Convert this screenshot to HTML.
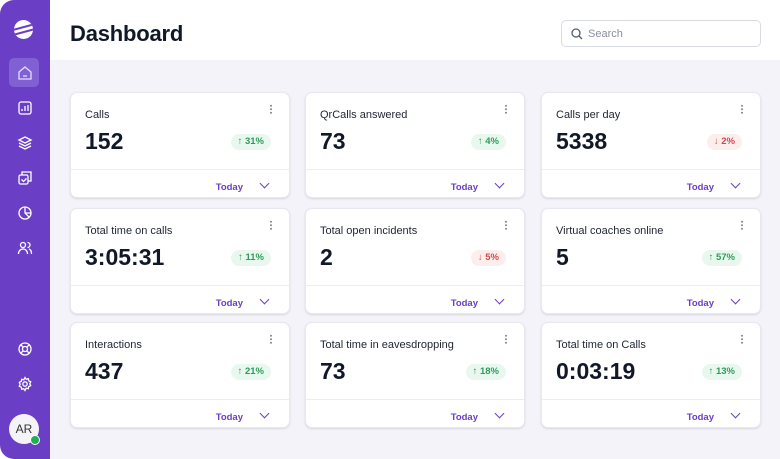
<!DOCTYPE html>
<html><head><meta charset="utf-8"><style>
*{box-sizing:border-box;margin:0;padding:0}
body{width:780px;height:459px;overflow:hidden;background:#fff;font-family:"Liberation Sans",sans-serif;position:relative}
.sb{position:absolute;left:0;top:0;width:50px;height:459px;background:#6b3fc5;border-radius:14px 0 0 14px}
.main{position:absolute;left:50px;top:60px;width:730px;height:399px;background:#f5f3fa}
.hdr{position:absolute;left:50px;top:0;width:730px;height:60px;background:#fff}
h1{position:absolute;left:70px;top:21px;font-size:22px;font-weight:bold;color:#111827;letter-spacing:-0.2px}
.search{position:absolute;left:561px;top:20px;width:200px;height:27px;border:1px solid #d9dbe3;border-radius:5px;background:#fff}
.search span{position:absolute;left:26px;top:7px;font-size:11px;color:#8a8f9c}
.card{position:absolute;width:220px;height:106px;background:#fff;border-radius:7px;box-shadow:0 1px 2px rgba(0,0,0,.12);border:1px solid #e9e7ef}
.card .t{position:absolute;left:14px;top:16px;font-size:11px;color:#1f2430}
.card .v{position:absolute;left:14px;top:35px;font-size:23px;font-weight:bold;color:#111827}
.card .dots{position:absolute;right:17px;top:11px;width:2px;height:10px;background:radial-gradient(circle,#8a8f9c 0.9px,transparent 1.1px) 0 0/2px 3.5px repeat-y}
.card .b{position:absolute;right:18px;top:41px;height:16px;padding:0 7px;border-radius:8px;font-size:9.5px;line-height:16px;font-weight:bold}
.up{background:#e9f8ef;color:#2e9b5b}.dn{background:#fdeeee;color:#d94848}
.card .hr{position:absolute;left:0;right:0;top:76px;height:1px;background:#eeecf2}
.card .td{position:absolute;right:46px;top:89px;font-size:9.5px;font-weight:bold;color:#6b3fc5}
.card .ch{position:absolute;right:21px;top:87px;width:7px;height:7px;border-right:1.5px solid #6b3fc5;border-bottom:1.5px solid #6b3fc5;transform:rotate(45deg)}
.ic{position:absolute;left:17px;width:16px;height:16px}
</style></head><body>
<div class="hdr"></div><div class="main"></div>
<div class="sb">
 <div style="position:absolute;left:14px;top:20px;width:19px;height:19px;border-radius:50%;background:#fff;overflow:hidden"><div style="position:absolute;left:-2px;top:6px;width:24px;height:2px;background:#6b3fc5;transform:rotate(-15deg)"></div><div style="position:absolute;left:-2px;top:11px;width:24px;height:2px;background:#6b3fc5;transform:rotate(-15deg)"></div></div>
 <div style="position:absolute;left:9px;top:58px;width:30px;height:29px;border-radius:5px;background:#8060d2"></div>
 <svg class="ic" style="top:65px" viewBox="0 0 16 16" fill="none" stroke="#e6dcff" stroke-width="1.3"><path d="M2 7l6-5 6 5v7H2z"/><path d="M6 11h4"/></svg>
 <svg class="ic" style="top:100px" viewBox="0 0 16 16" fill="none" stroke="#fff" stroke-width="1.3"><rect x="2" y="2" width="12" height="12" rx="2"/><path d="M5 11V9M8 11V6M11 11V5"/></svg>
 <svg class="ic" style="top:135px" viewBox="0 0 16 16" fill="none" stroke="#fff" stroke-width="1.3"><path d="M8 2l6 3-6 3-6-3z M2 8l6 3 6-3 M2 11l6 3 6-3"/></svg>
 <svg class="ic" style="top:170px" viewBox="0 0 16 16" fill="none" stroke="#fff" stroke-width="1.3"><rect x="2" y="5" width="9" height="9" rx="1.5"/><path d="M5 5V2h9v9h-3"/><path d="M4.5 9.5l2 2 3-3"/></svg>
 <svg class="ic" style="top:205px" viewBox="0 0 16 16" fill="none" stroke="#fff" stroke-width="1.3"><circle cx="8" cy="8" r="6"/><path d="M8 2v6l4 4M8 8h6"/></svg>
 <svg class="ic" style="top:240px" viewBox="0 0 16 16" fill="none" stroke="#fff" stroke-width="1.3"><circle cx="6" cy="5" r="2.5"/><path d="M1.5 14c0-3 2-5 4.5-5s4.5 2 4.5 5M10.5 2.5a2.5 2.5 0 010 5M12 9c1.5.5 2.5 2.5 2.5 5"/></svg>
 <svg class="ic" style="top:341px" viewBox="0 0 16 16" fill="none" stroke="#fff" stroke-width="1.3"><circle cx="8" cy="8" r="6"/><circle cx="8" cy="8" r="2.5"/><path d="M4 4l2.2 2.2M12 4l-2.2 2.2M4 12l2.2-2.2M12 12l-2.2-2.2"/></svg>
 <svg class="ic" style="top:376px" viewBox="0 0 16 16" fill="none" stroke="#fff" stroke-width="1.3"><circle cx="8" cy="8" r="2.2"/><path d="M8 1.5l1.2 1.8 2.1-.6.4 2.1 2 .9-.9 2 .9 2-2 .9-.4 2.1-2.1-.6L8 14.5l-1.2-1.8-2.1.6-.4-2.1-2-.9.9-2-.9-2 2-.9.4-2.1 2.1.6z"/></svg>
 <div style="position:absolute;left:9px;top:414px;width:30px;height:30px;border-radius:50%;background:#f4f3f7;font-size:12px;color:#333;text-align:center;line-height:30px">AR</div>
 <div style="position:absolute;left:30px;top:435px;width:10px;height:10px;border-radius:50%;background:#1fb055;border:1.5px solid #fff"></div>
</div>
<h1>Dashboard</h1>
<div class="search"><svg style="position:absolute;left:9px;top:7px" width="12" height="12" viewBox="0 0 12 12" fill="none" stroke="#555c6a" stroke-width="1.3"><circle cx="5" cy="5" r="4"/><path d="M8 8l3 3"/></svg><span>Search</span></div>

<div class="card" style="left:70px;top:92px"><div class="t">Calls</div><div class="v">152</div><div class="dots"></div><div class="b up">↑ 31%</div><div class="hr"></div><div class="td">Today</div><div class="ch"></div></div>
<div class="card" style="left:305px;top:92px"><div class="t">QrCalls answered</div><div class="v">73</div><div class="dots"></div><div class="b up">↑ 4%</div><div class="hr"></div><div class="td">Today</div><div class="ch"></div></div>
<div class="card" style="left:541px;top:92px"><div class="t">Calls per day</div><div class="v">5338</div><div class="dots"></div><div class="b dn">↓ 2%</div><div class="hr"></div><div class="td">Today</div><div class="ch"></div></div>

<div class="card" style="left:70px;top:208px"><div class="t">Total time on calls</div><div class="v">3:05:31</div><div class="dots"></div><div class="b up">↑ 11%</div><div class="hr"></div><div class="td">Today</div><div class="ch"></div></div>
<div class="card" style="left:305px;top:208px"><div class="t">Total open incidents</div><div class="v">2</div><div class="dots"></div><div class="b dn">↓ 5%</div><div class="hr"></div><div class="td">Today</div><div class="ch"></div></div>
<div class="card" style="left:541px;top:208px"><div class="t">Virtual coaches online</div><div class="v">5</div><div class="dots"></div><div class="b up">↑ 57%</div><div class="hr"></div><div class="td">Today</div><div class="ch"></div></div>

<div class="card" style="left:70px;top:322px"><div class="t">Interactions</div><div class="v">437</div><div class="dots"></div><div class="b up">↑ 21%</div><div class="hr"></div><div class="td">Today</div><div class="ch"></div></div>
<div class="card" style="left:305px;top:322px"><div class="t">Total time in eavesdropping</div><div class="v">73</div><div class="dots"></div><div class="b up">↑ 18%</div><div class="hr"></div><div class="td">Today</div><div class="ch"></div></div>
<div class="card" style="left:541px;top:322px"><div class="t">Total time on Calls</div><div class="v">0:03:19</div><div class="dots"></div><div class="b up">↑ 13%</div><div class="hr"></div><div class="td">Today</div><div class="ch"></div></div>
</body></html>
